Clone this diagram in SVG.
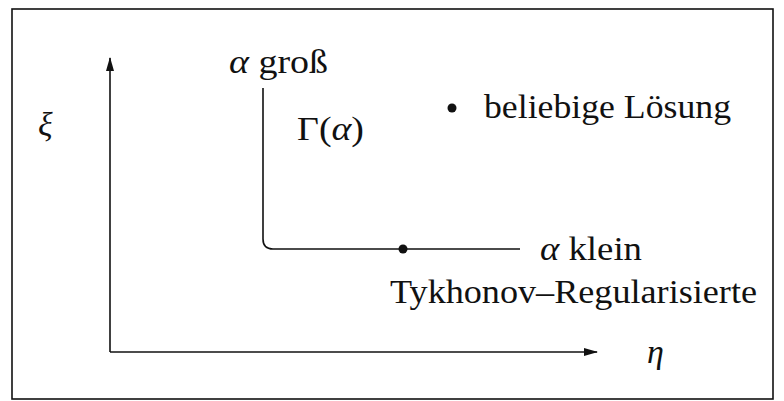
<svg xmlns="http://www.w3.org/2000/svg" width="784" height="401" viewBox="0 0 784 401">
<defs>
<style>
.t{font-family:"Liberation Serif","Times New Roman",serif;font-size:34px;fill:#111}
.i{font-style:italic}
.ln{fill:none;stroke:#111;stroke-width:1.6}
</style>
<marker id="ah" markerWidth="14" markerHeight="10" refX="13" refY="5" orient="auto" markerUnits="userSpaceOnUse">
<path d="M0,1 L14,5 L0,9 Z" fill="#111"/>
</marker>
</defs>
<rect width="784" height="401" fill="#fff"/>
<rect x="12" y="9" width="761" height="390" class="ln"/>
<g id="connectors">
<path d="M110,352 V58" class="ln" marker-end="url(#ah)"/>
<path d="M110,352 H597" class="ln" marker-end="url(#ah)"/>
<path id="curve" d="M263,88 V239 Q263,249 273,249 H520" class="ln"/>
</g>
<g id="labels">
<text class="t i" x="38" y="136">ξ</text>
<text class="t" x="647" y="363"><tspan class="i">η</tspan></text>
</g>
<g id="alpha-gross"><text class="t" x="229" y="73" textLength="99" lengthAdjust="spacingAndGlyphs"><tspan class="i">α</tspan> groß</text></g>
<g id="gamma"><text class="t" x="297" y="140" textLength="67" lengthAdjust="spacingAndGlyphs">Γ(<tspan class="i">α</tspan>)</text></g>
<g id="beliebige">
<circle cx="452" cy="108" r="4.5" fill="#111"/>
<text class="t" x="484" y="118" textLength="247" lengthAdjust="spacingAndGlyphs">beliebige Lösung</text>
</g>
<g id="tykhonov">
<circle cx="403" cy="249" r="4.5" fill="#111"/>
<text class="t" x="390" y="303" textLength="367" lengthAdjust="spacingAndGlyphs">Tykhonov–Regularisierte</text>
</g>
<g id="alpha-klein"><text class="t" x="540" y="260" textLength="102" lengthAdjust="spacingAndGlyphs"><tspan class="i">α</tspan> klein</text></g>
</svg>
